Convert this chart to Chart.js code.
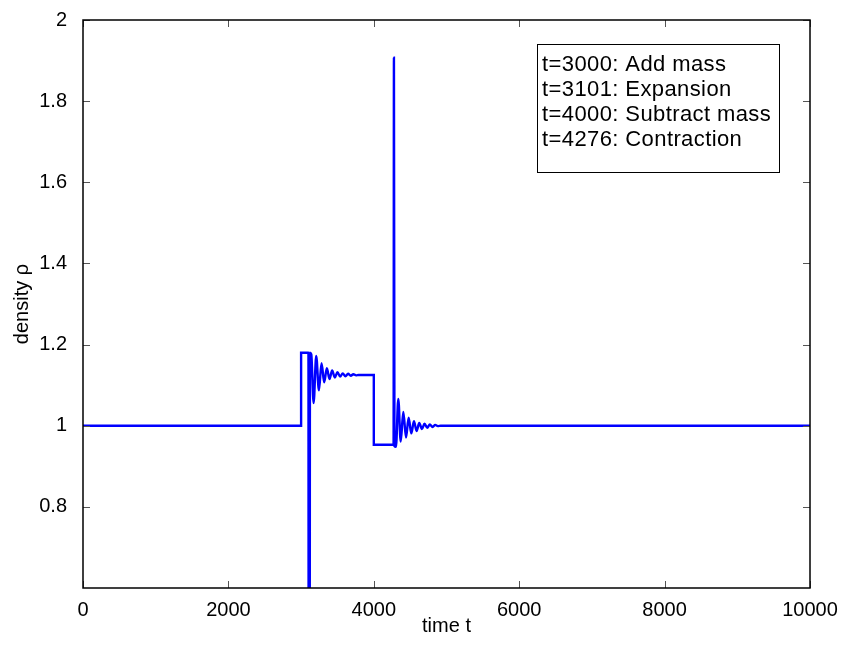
<!DOCTYPE html>
<html>
<head>
<meta charset="utf-8">
<script src="https://cdn.jsdelivr.net/npm/chart.js@4/dist/chart.umd.min.js"></script>
<style>
  body { margin: 0; background: #fff; }
  canvas { display: block; }
</style>
</head>
<body>
<canvas id="chart" width="845" height="646"></canvas>
<script>
// time samples (steps, oscillation extremes) and density values
const timeT = [0, 3000, 3000, 3101, 3104, 3118, 3122, 3140, 3172, 3208, 3245, 3281, 3318, 3354,
  3391, 3427, 3464, 3500, 3537, 3573, 3610, 3646, 3683, 3719, 3756, 3790, 4000, 4000,
  4272, 4277, 4284, 4305, 4337, 4370, 4406, 4443, 4479, 4516, 4552, 4589, 4625, 4662,
  4698, 4735, 4771, 4808, 4844, 4881, 4920, 10000];
const rho = [1, 1, 1.18, 1.18, 0.3, 0.3, 1.18, 1.176, 1.056, 1.172, 1.087, 1.154, 1.107, 1.142,
  1.115, 1.136, 1.119, 1.132, 1.121, 1.129, 1.122, 1.128, 1.123, 1.127, 1.124, 1.125, 1.125, 0.953,
  0.953, 1.907, 0.95, 0.948, 1.066, 0.961, 1.034, 0.971, 1.020, 0.981, 1.011, 0.987, 1.007, 0.992,
  1.005, 0.995, 1.003, 0.997, 1.002, 0.999, 1.0, 1.0];

const xTicks = [0, 2000, 4000, 6000, 8000, 10000];
const yTicks = [0.8, 1, 1.2, 1.4, 1.6, 1.8, 2];
const yTickLabels = ["0.8", "1", "1.2", "1.4", "1.6", "1.8", "2"];

const notes = [
  "t=3000: Add mass",
  "t=3101: Expansion",
  "t=4000: Subtract mass",
  "t=4276: Contraction"
];

const FONT = "'Liberation Sans', Arial, Helvetica, sans-serif";

// MATLAB style box with inward ticks, plus the text-only legend
const boxPlugin = {
  id: "box",
  afterDraw(chart) {
    const ctx = chart.ctx;
    const a = chart.chartArea;
    const xs = chart.scales.x, ys = chart.scales.y;
    ctx.save();
    ctx.strokeStyle = "#555";
    ctx.lineWidth = 1;
    ctx.beginPath();
    xTicks.forEach(v => {
      const px = Math.round(xs.getPixelForValue(v)) + 0.5;
      ctx.moveTo(px, a.bottom); ctx.lineTo(px, a.bottom - 7);
      ctx.moveTo(px, a.top); ctx.lineTo(px, a.top + 7);
    });
    yTicks.forEach(v => {
      const py = Math.round(ys.getPixelForValue(v)) + 0.5;
      ctx.moveTo(a.left, py); ctx.lineTo(a.left + 7, py);
      ctx.moveTo(a.right, py); ctx.lineTo(a.right - 7, py);
    });
    ctx.stroke();

    ctx.strokeStyle = "#000";
    ctx.lineWidth = 1.5;
    ctx.strokeRect(a.left, a.top, a.right - a.left, a.bottom - a.top);

    // legend box
    const bx = 537, by = 44, bw = 242, bh = 128;
    ctx.fillStyle = "#fff";
    ctx.fillRect(bx, by, bw, bh);
    ctx.lineWidth = 1;
    ctx.strokeRect(bx + 0.5, by + 0.5, bw, bh);
    ctx.fillStyle = "#000";
    ctx.font = "22px " + FONT;
    ctx.letterSpacing = "0.4px";
    ctx.textBaseline = "middle";
    notes.forEach((s, i) => ctx.fillText(s, bx + 5, by + 21 + i * 25));
    ctx.restore();
  }
};

new Chart(document.getElementById("chart"), {
  type: "line",
  data: {
    datasets: [{
      data: timeT.map((t, i) => ({ x: t, y: rho[i] })),
      borderColor: "#0000ff",
      borderWidth: 2.4,
      pointRadius: 0,
      cubicInterpolationMode: "monotone",
      fill: false
    }]
  },
  options: {
    responsive: false,
    animation: false,
    devicePixelRatio: 1,
    layout: { padding: { left: 0, right: 35, top: 15, bottom: 0 } },
    plugins: { legend: { display: false }, tooltip: { enabled: false } },
    scales: {
      x: {
        type: "linear",
        min: 0, max: 10000,
        afterBuildTicks: s => { s.ticks = xTicks.map(v => ({ value: v })); },
        afterFit: s => { s.height = 58; },
        grid: { display: false },
        border: { display: false },
        ticks: { color: "#000", font: { family: FONT, size: 20 }, padding: 2, maxRotation: 0,
                 callback: v => String(v) },
        title: { display: true, text: "time t", color: "#000", font: { family: FONT, size: 20 },
                 padding: { top: 0, bottom: 8 } }
      },
      y: {
        type: "linear",
        min: 0.6, max: 2,
        afterBuildTicks: s => { s.ticks = yTicks.map(v => ({ value: v })); },
        afterFit: s => { s.width = 83; },
        grid: { display: false },
        border: { display: false },
        ticks: { color: "#000", font: { family: FONT, size: 20 }, padding: 8,
                 callback: v => yTickLabels[yTicks.indexOf(v)] },
        title: { display: true, text: "density ρ", color: "#000", font: { family: FONT, size: 20 },
                 padding: { top: 10, bottom: 0 } }
      }
    }
  },
  plugins: [boxPlugin]
});
</script>
</body>
</html>
